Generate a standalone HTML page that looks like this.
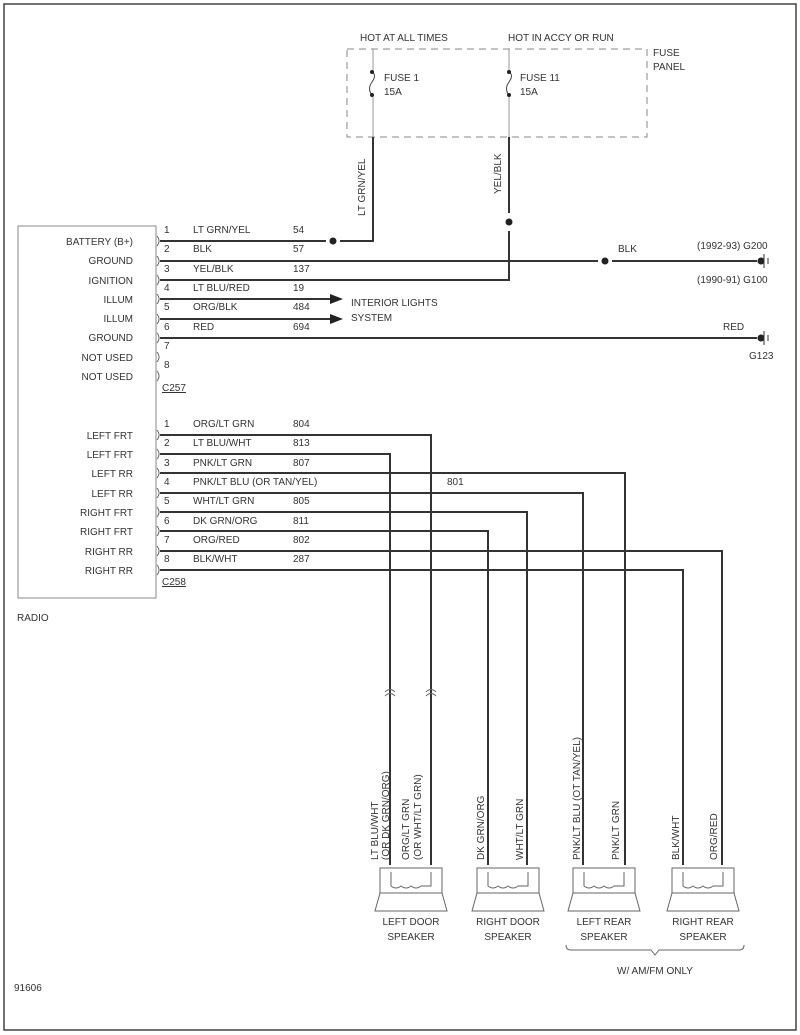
<!DOCTYPE html><html><head><style>body{margin:0;background:#fff}svg{display:block}text{font-family:"Liberation Sans",sans-serif;font-size:10px;fill:#333}</style></head><body>
<svg width="800" height="1035" viewBox="0 0 800 1035">
<rect x="4" y="4" width="792" height="1026" fill="none" stroke="#444" stroke-width="1.5"/>
<rect x="347" y="49" width="300" height="88" fill="none" stroke="#888" stroke-dasharray="7,5"/>
<text x="360" y="41">HOT AT ALL TIMES</text><text x="508" y="41">HOT IN ACCY OR RUN</text>
<text x="653" y="56">FUSE</text><text x="653" y="70">PANEL</text>
<g stroke="#999" fill="none"><line x1="373" y1="49" x2="373" y2="70"/><line x1="373" y1="97" x2="373" y2="137"/><line x1="509" y1="49" x2="509" y2="70"/><line x1="509" y1="97" x2="509" y2="137"/>
<path d="M372,72 q5,3 0,10 q-5,7 0,13" stroke="#444"/><path d="M509,72 q5,3 0,10 q-5,7 0,13" stroke="#444"/></g>
<g fill="#222"><circle cx="372" cy="72" r="2"/><circle cx="372" cy="95" r="2"/><circle cx="509" cy="72" r="2"/><circle cx="509" cy="95" r="2"/></g>
<text x="384" y="81">FUSE 1</text><text x="384" y="95">15A</text><text x="520" y="81">FUSE 11</text><text x="520" y="95">15A</text>
<g stroke="#333" stroke-width="2" fill="none">
<polyline points="373,137 373,241 340,241"/>
<line x1="509" y1="137" x2="509" y2="213"/>
<polyline points="509,231 509,280 160,280"/>
<line x1="160" y1="241" x2="326" y2="241"/>
<line x1="160" y1="261" x2="598" y2="261"/>
<line x1="612" y1="261" x2="757" y2="261"/>
<line x1="160" y1="299" x2="330" y2="299"/>
<line x1="160" y1="319" x2="330" y2="319"/>
<line x1="160" y1="338" x2="757" y2="338"/>
</g>
<g fill="#222"><circle cx="333" cy="241" r="3.5"/><circle cx="509" cy="222" r="3.5"/><circle cx="605" cy="261" r="3.5"/><circle cx="761" cy="261" r="3.5"/><circle cx="761" cy="338" r="3.5"/>
<polygon points="330,294 343,299 330,304"/><polygon points="330,314 343,319 330,324"/></g>
<g stroke="#333"><line x1="764" y1="254" x2="764" y2="268"/><line x1="768" y1="258" x2="768" y2="264"/><line x1="764" y1="331" x2="764" y2="345"/><line x1="768" y1="335" x2="768" y2="341"/></g>
<g stroke="#666" fill="none">
<path d="M157,236 q4,5 0,10 M157,256 q4,5 0,10 M157,275 q4,5 0,10 M157,294 q4,5 0,10 M157,314 q4,5 0,10 M157,333 q4,5 0,10 M157,352 q4,5 0,10 M157,371 q4,5 0,10"/>
<path d="M157,430 q4,5 0,10 M157,449 q4,5 0,10 M157,468 q4,5 0,10 M157,488 q4,5 0,10 M157,507 q4,5 0,10 M157,526 q4,5 0,10 M157,546 q4,5 0,10 M157,565 q4,5 0,10"/>
</g>
<text transform="translate(365,216) rotate(-90)">LT GRN/YEL</text>
<text transform="translate(501,194) rotate(-90)">YEL/BLK</text>
<text x="618" y="252">BLK</text><text x="697" y="249">(1992-93) G200</text><text x="697" y="283">(1990-91) G100</text>
<text x="723" y="330">RED</text><text x="749" y="359">G123</text>
<text x="351" y="306">INTERIOR LIGHTS</text><text x="351" y="321">SYSTEM</text>
<rect x="18" y="226" width="138" height="372" fill="none" stroke="#888"/>
<text x="17" y="621">RADIO</text><text x="14" y="991">91606</text>
<g text-anchor="end">
<text x="133" y="245">BATTERY (B+)</text><text x="133" y="264">GROUND</text><text x="133" y="284">IGNITION</text><text x="133" y="303">ILLUM</text><text x="133" y="322">ILLUM</text><text x="133" y="341">GROUND</text><text x="133" y="361">NOT USED</text><text x="133" y="380">NOT USED</text>
<text x="133" y="439">LEFT FRT</text><text x="133" y="458">LEFT FRT</text><text x="133" y="477">LEFT RR</text><text x="133" y="497">LEFT RR</text><text x="133" y="516">RIGHT FRT</text><text x="133" y="535">RIGHT FRT</text><text x="133" y="555">RIGHT RR</text><text x="133" y="574">RIGHT RR</text>
</g>
<g>
<text x="164" y="233">1</text><text x="193" y="233">LT GRN/YEL</text><text x="293" y="233">54</text>
<text x="164" y="252">2</text><text x="193" y="252">BLK</text><text x="293" y="252">57</text>
<text x="164" y="272">3</text><text x="193" y="272">YEL/BLK</text><text x="293" y="272">137</text>
<text x="164" y="291">4</text><text x="193" y="291">LT BLU/RED</text><text x="293" y="291">19</text>
<text x="164" y="310">5</text><text x="193" y="310">ORG/BLK</text><text x="293" y="310">484</text>
<text x="164" y="330">6</text><text x="193" y="330">RED</text><text x="293" y="330">694</text>
<text x="164" y="349">7</text><text x="164" y="368">8</text>
<text x="162" y="391" text-decoration="underline">C257</text>
<text x="164" y="427">1</text><text x="193" y="427">ORG/LT GRN</text><text x="293" y="427">804</text>
<text x="164" y="446">2</text><text x="193" y="446">LT BLU/WHT</text><text x="293" y="446">813</text>
<text x="164" y="466">3</text><text x="193" y="466">PNK/LT GRN</text><text x="293" y="466">807</text>
<text x="164" y="485">4</text><text x="193" y="485">PNK/LT BLU (OR TAN/YEL)</text><text x="447" y="485">801</text>
<text x="164" y="504">5</text><text x="193" y="504">WHT/LT GRN</text><text x="293" y="504">805</text>
<text x="164" y="524">6</text><text x="193" y="524">DK GRN/ORG</text><text x="293" y="524">811</text>
<text x="164" y="543">7</text><text x="193" y="543">ORG/RED</text><text x="293" y="543">802</text>
<text x="164" y="562">8</text><text x="193" y="562">BLK/WHT</text><text x="293" y="562">287</text>
<text x="162" y="585" text-decoration="underline">C258</text>
</g>
<g stroke="#333" stroke-width="2" fill="none">
<polyline points="160,435 431,435 431,865"/>
<polyline points="160,454 390,454 390,865"/>
<polyline points="160,473 625,473 625,865"/>
<polyline points="160,493 583,493 583,865"/>
<polyline points="160,512 527,512 527,865"/>
<polyline points="160,531 488,531 488,865"/>
<polyline points="160,551 722,551 722,865"/>
<polyline points="160,570 683,570 683,865"/>
</g>
<g stroke="#666" fill="none">
<path d="M385,692 q5,-5 10,0 M426,692 q5,-5 10,0 M385,696 q5,-5 10,0 M426,696 q5,-5 10,0"/>
<rect x="380" y="868" width="62" height="25"/><path d="M380,893 l-5,18 h72 l-5,-18"/>
<rect x="477" y="868" width="62" height="25"/><path d="M477,893 l-5,18 h72 l-5,-18"/>
<rect x="573" y="868" width="62" height="25"/><path d="M573,893 l-5,18 h72 l-5,-18"/>
<rect x="672" y="868" width="62" height="25"/><path d="M672,893 l-5,18 h72 l-5,-18"/>
<path d="M391,872 v14 q5,4 10,0 q5,4 10,0 q5,4 10,0 h10 v-14"/>
<path d="M488,872 v14 q5,4 10,0 q5,4 10,0 q5,4 10,0 h10 v-14"/>
<path d="M584,872 v14 q5,4 10,0 q5,4 10,0 q5,4 10,0 h10 v-14"/>
<path d="M683,872 v14 q5,4 10,0 q5,4 10,0 q5,4 10,0 h10 v-14"/>
<path d="M566,945 q0,5 5,5 h80 l4,5 l4,-5 h80 q5,0 5,-5"/>
</g>
<g>
<text transform="translate(378,860) rotate(-90)">LT BLU/WHT</text><text transform="translate(389,860) rotate(-90)">(OR DK GRN/ORG)</text>
<text transform="translate(409,860) rotate(-90)">ORG/LT GRN</text><text transform="translate(421,860) rotate(-90)">(OR WHT/LT GRN)</text>
<text transform="translate(484,860) rotate(-90)">DK GRN/ORG</text><text transform="translate(523,860) rotate(-90)">WHT/LT GRN</text>
<text transform="translate(580,860) rotate(-90)">PNK/LT BLU (OT TAN/YEL)</text><text transform="translate(619,860) rotate(-90)">PNK/LT GRN</text>
<text transform="translate(679,860) rotate(-90)">BLK/WHT</text><text transform="translate(717,860) rotate(-90)">ORG/RED</text>
</g>
<g text-anchor="middle">
<text x="411" y="925">LEFT DOOR</text><text x="411" y="940">SPEAKER</text>
<text x="508" y="925">RIGHT DOOR</text><text x="508" y="940">SPEAKER</text>
<text x="604" y="925">LEFT REAR</text><text x="604" y="940">SPEAKER</text>
<text x="703" y="925">RIGHT REAR</text><text x="703" y="940">SPEAKER</text>
<text x="655" y="974">W/ AM/FM ONLY</text>
</g>
</svg></body></html>
